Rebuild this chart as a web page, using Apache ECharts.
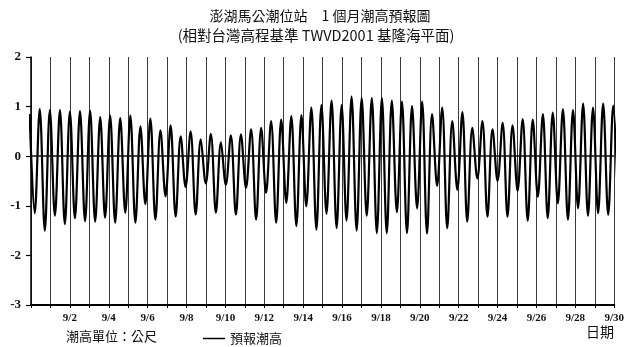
<!DOCTYPE html>
<html>
<head>
<meta charset="utf-8">
<script src="https://cdn.jsdelivr.net/npm/echarts@6/dist/echarts.min.js"></script>
<style>
  html, body { margin: 0; padding: 0; background: #fff; }
  #chart { width: 627px; height: 347px; }
</style>
</head>
<body>
<div id="chart"></div>
<script>
// Predicted tide extremes for September (x = day offset from 9/1 00:00, y = metres)
const highDays = [-0.07, 0.45, 0.97, 1.49, 2.00, 2.52, 3.04, 3.56, 4.07, 4.59, 5.11, 5.63, 6.14, 6.66, 7.18, 7.70,
  8.21, 8.73, 9.25, 9.77, 10.28, 10.80, 11.32, 11.84, 12.35, 12.87, 13.39, 13.91, 14.42, 14.94, 15.46, 15.98,
  16.49, 17.01, 17.53, 18.05, 18.56, 19.08, 19.60, 20.12, 20.63, 21.15, 21.67, 22.19, 22.70, 23.22, 23.74,
  24.26, 24.77, 25.29, 25.81, 26.33, 26.84, 27.36, 27.88, 28.40, 28.91, 29.43, 29.95];
const highLevels = [0.85, 0.95, 0.93, 0.93, 0.90, 0.91, 0.92, 0.79, 0.82, 0.77, 0.82, 0.60, 0.76, 0.52, 0.62, 0.40,
  0.50, 0.34, 0.45, 0.28, 0.42, 0.44, 0.54, 0.57, 0.71, 0.74, 0.81, 0.83, 0.98, 1.03, 1.12, 1.03,
  1.20, 1.17, 1.17, 1.17, 1.12, 1.10, 1.01, 1.10, 0.85, 0.98, 0.71, 0.89, 0.57, 0.71, 0.54,
  0.67, 0.62, 0.75, 0.74, 0.85, 0.88, 0.95, 0.93, 1.06, 0.98, 1.06, 1.02];
const lowDays = [0.19, 0.71, 1.23, 1.74, 2.26, 2.78, 3.30, 3.81, 4.33, 4.85, 5.37, 5.88, 6.40, 6.92, 7.44, 7.95,
  8.47, 8.99, 9.51, 10.02, 10.54, 11.06, 11.58, 12.09, 12.61, 13.13, 13.65, 14.16, 14.68, 15.20, 15.72,
  16.23, 16.75, 17.27, 17.79, 18.30, 18.82, 19.34, 19.86, 20.37, 20.89, 21.41, 21.93, 22.44, 22.96, 23.48,
  24.00, 24.51, 25.03, 25.55, 26.07, 26.58, 27.10, 27.62, 28.14, 28.65, 29.17, 29.69, 30.21];
const lowLevels = [-1.15, -1.50, -1.20, -1.37, -1.25, -1.31, -1.32, -1.24, -1.34, -1.14, -1.34, -0.97, -1.28, -0.81, -1.22, -0.62,
  -1.18, -0.55, -1.14, -0.58, -1.18, -0.64, -1.28, -0.74, -1.34, -0.94, -1.41, -1.01, -1.48, -1.16, -1.45,
  -1.30, -1.50, -1.20, -1.55, -1.55, -1.13, -1.55, -1.05, -1.56, -0.60, -1.45, -0.68, -1.32, -0.45, -1.22,
  -0.50, -1.22, -0.70, -1.30, -0.82, -1.25, -0.95, -1.28, -1.05, -1.20, -1.15, -1.18, -1.20];

// Axis labelling
const labelDays = [2, 4, 6, 8, 10, 12, 14, 16, 18, 20, 22, 24, 26, 28, 30];
const dateLabels = ['9/2', '9/4', '9/6', '9/8', '9/10', '9/12', '9/14', '9/16', '9/18', '9/20', '9/22', '9/24', '9/26', '9/28', '9/30'];
const levelTicks = [-3, -2, -1, 0, 1, 2];

const seriesName = '預報潮高';
const titleText = '澎湖馬公潮位站　1 個月潮高預報圖';
const subtitleText = '(相對台灣高程基準 TWVD2001 基隆海平面)';
const unitText = '潮高單位：公尺';
const xName = '日期';

// Merge highs and lows into one time-ordered curve
const tide = highDays.map((d, i) => [d, highLevels[i]])
  .concat(lowDays.map((d, i) => [d, lowLevels[i]]))
  .sort((a, b) => a[0] - b[0]);

const serif = '"Liberation Serif", "DejaVu Serif", serif';
const cjk = '"Noto Sans CJK TC", "Noto Sans CJK SC", sans-serif';

const chart = echarts.init(document.getElementById('chart'), null, { renderer: 'canvas' });
chart.setOption({
  backgroundColor: '#fff',
  animation: false,
  grid: { left: 31, right: 10, top: 57, bottom: 42, containLabel: false },
  legend: {
    data: [seriesName],
    left: 198, top: 327,
    icon: 'rect', itemWidth: 22, itemHeight: 1.5, itemGap: 6,
    textStyle: { fontFamily: cjk, fontSize: 13, color: '#111' }
  },
  graphic: [
    { type: 'text', x: 320, y: 9, style: { text: titleText, font: '14px ' + cjk, fill: '#111', textAlign: 'center' } },
    { type: 'text', x: 316, y: 28, style: { text: subtitleText, font: '14.5px ' + cjk, fill: '#111', textAlign: 'center' } },
    { type: 'text', left: 66, top: 330, style: { text: unitText, font: '13px ' + cjk, fill: '#111' } },
    { type: 'text', left: 586, top: 325, style: { text: xName, font: '14px ' + cjk, fill: '#111' } }
  ],
  xAxis: {
    type: 'value', min: 0, max: 30, interval: 1,
    axisLine: { onZero: false, lineStyle: { color: '#000', width: 2 } },
    axisTick: { show: true, length: 3, lineStyle: { color: '#000' } },
    axisLabel: {
      margin: 8, color: '#111', fontFamily: serif, fontWeight: 'bold', fontSize: 11,
      formatter: v => { const i = labelDays.indexOf(v); return i >= 0 ? dateLabels[i] : ''; }
    },
    splitLine: { show: true, lineStyle: { color: '#3a3a3a', width: 1 } }
  },
  yAxis: {
    type: 'value', min: levelTicks[0], max: levelTicks[levelTicks.length - 1], interval: 1,
    axisLine: { show: true, lineStyle: { color: '#000', width: 1.5 } },
    axisTick: { show: true, length: 5, lineStyle: { color: '#000', width: 1.2 } },
    axisLabel: {
      margin: 10, color: '#111', fontFamily: serif, fontWeight: 'bold', fontSize: 13,
      formatter: v => levelTicks.includes(v) ? String(v) : ''
    },
    splitLine: { show: false }
  },
  series: [{
    name: seriesName,
    type: 'line',
    data: tide,
    smooth: 0.36,
    showSymbol: false,
    symbol: 'none',
    clip: true,
    lineStyle: { color: '#000', width: 2.2 },
    itemStyle: { color: '#000' },
    markLine: {
      silent: true, symbol: 'none', label: { show: false },
      lineStyle: { color: '#111', width: 1.5, type: 'solid' },
      data: [{ yAxis: 0 }]
    }
  }]
});
</script>
</body>
</html>
